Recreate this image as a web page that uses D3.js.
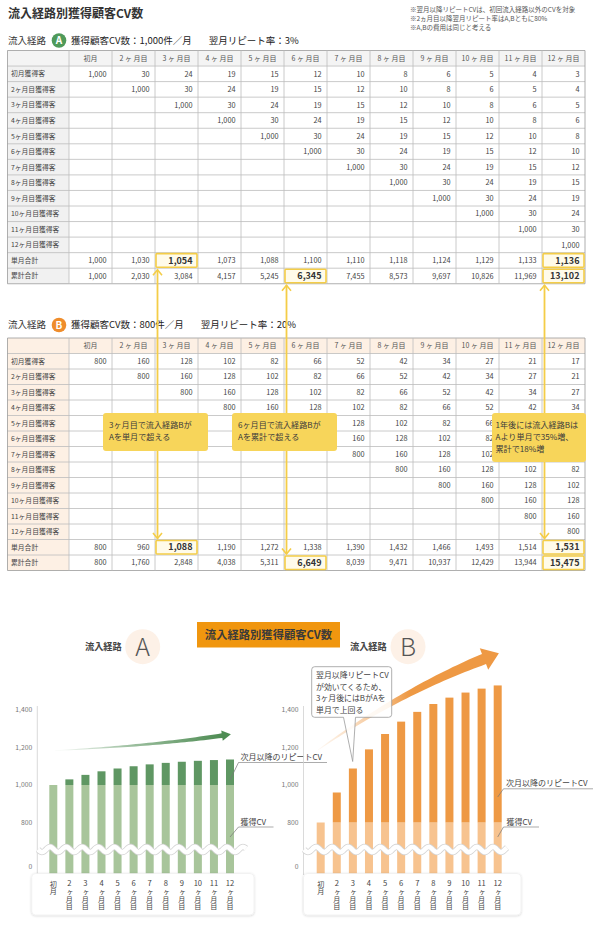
<!DOCTYPE html>
<html lang="ja"><head><meta charset="utf-8">
<script src="https://cdn.jsdelivr.net/npm/d3@7/dist/d3.min.js"></script>
<style>
html,body{margin:0;padding:0;background:#fff;}
svg{display:block;}
text{font-family:"Noto Sans CJK JP","Noto Sans CJK SC",sans-serif;}
.vt{writing-mode:vertical-rl;}
</style></head><body>
<svg id="chart" width="600" height="925" viewBox="0 0 600 925"></svg>
<script>
// ---------------- DATA ----------------
const mainTitle = "流入経路別獲得顧客CV数";
const notes = ["※翌月以降リピートCVは、初回流入経路以外のCVを対象","※2ヵ月目以降翌月リピート率はA,Bともに80%","※A,Bの費用は同じと考える"];
const months = ["初月","2ヶ月目","3ヶ月目","4ヶ月目","5ヶ月目","6ヶ月目","7ヶ月目","8ヶ月目","9ヶ月目","10ヶ月目","11ヶ月目","12ヶ月目"];
const rowLabels = ["初月獲得客","2ヶ月目獲得客","3ヶ月目獲得客","4ヶ月目獲得客","5ヶ月目獲得客","6ヶ月目獲得客","7ヶ月目獲得客","8ヶ月目獲得客","9ヶ月目獲得客","10ヶ月目獲得客","11ヶ月目獲得客","12ヶ月目獲得客","単月合計","累計合計"];
const _ = null;
const cohortA = [
 [1000,30,24,19,15,12,10,8,6,5,4,3],
 [_,1000,30,24,19,15,12,10,8,6,5,4],
 [_,_,1000,30,24,19,15,12,10,8,6,5],
 [_,_,_,1000,30,24,19,15,12,10,8,6],
 [_,_,_,_,1000,30,24,19,15,12,10,8],
 [_,_,_,_,_,1000,30,24,19,15,12,10],
 [_,_,_,_,_,_,1000,30,24,19,15,12],
 [_,_,_,_,_,_,_,1000,30,24,19,15],
 [_,_,_,_,_,_,_,_,1000,30,24,19],
 [_,_,_,_,_,_,_,_,_,1000,30,24],
 [_,_,_,_,_,_,_,_,_,_,1000,30],
 [_,_,_,_,_,_,_,_,_,_,_,1000]
];
const monthlyA = [1000,1030,1054,1073,1088,1100,1110,1118,1124,1129,1133,1136];
const cumulativeA = [1000,2030,3084,4157,5245,6345,7455,8573,9697,10826,11969,13102];
const cohortB = [
 [800,160,128,102,82,66,52,42,34,27,21,17],
 [_,800,160,128,102,82,66,52,42,34,27,21],
 [_,_,800,160,128,102,82,66,52,42,34,27],
 [_,_,_,800,160,128,102,82,66,52,42,34],
 [_,_,_,_,800,160,128,102,82,66,52,42],
 [_,_,_,_,_,800,160,128,102,82,66,52],
 [_,_,_,_,_,_,800,160,128,102,82,66],
 [_,_,_,_,_,_,_,800,160,128,102,82],
 [_,_,_,_,_,_,_,_,800,160,128,102],
 [_,_,_,_,_,_,_,_,_,800,160,128],
 [_,_,_,_,_,_,_,_,_,_,800,160],
 [_,_,_,_,_,_,_,_,_,_,_,800]
];
const monthlyB = [800,960,1088,1190,1272,1338,1390,1432,1466,1493,1514,1531];
const cumulativeB = [800,1760,2848,4038,5311,6649,8039,9471,10937,12429,13944,15475];
const acquiredA = [1000,1000,1000,1000,1000,1000,1000,1000,1000,1000,1000,1000];
const acquiredB = [800,800,800,800,800,800,800,800,800,800,800,800];
const yTicks = [0,800,1000,1200,1400];
const highlightCells = [[12,2],[13,5],[12,11],[13,11]];
const callouts = [
  {lines:["3ヶ月目で流入経路Bが","Aを単月で超える"]},
  {lines:["6ヶ月目で流入経路Bが","Aを累計で超える"]},
  {lines:["1年後には流入経路Bは","Aより単月で35%増、","累計で18%増"]}
];
const bubbleLines = ["翌月以降リピートCV","が効いてくるため、","3ヶ月後にはBがAを","単月で上回る"];

// ---------------- DRAW ----------------
const svg = d3.select("#chart");
const defs = svg.append("defs");
const fmt = d3.format(",");
const YEL = "#f4cd48";
const cbox = [{x:103,y:413,w:105,h:38},{x:232,y:413,w:105,h:38},{x:492,y:413,w:94,h:49}];

svg.append("text").attr("x",8).attr("y",18).attr("font-size",12).attr("font-weight","bold").attr("fill","#333").text(mainTitle);
svg.selectAll(".note").data(notes).join("text").attr("x",410).attr("y",(d,i)=>11.5+i*9.3)
  .attr("font-size",6.5).attr("fill","#555").text(d=>d);

const colX = d3.scaleBand().domain(months).range([69,585]);
const tLeft = 7.5, tRight = 585, labelRight = 69;

function headerLine(y, letter, color, t1, t2){
  const g = svg.append("g");
  g.append("text").attr("x",8).attr("y",y+3.3).attr("font-size",9.5).attr("fill","#333").text("流入経路");
  g.append("circle").attr("cx",59).attr("cy",y).attr("r",7.3).attr("fill",color);
  g.append("text").attr("x",59).attr("y",y+3.6).attr("text-anchor","middle").attr("font-size",10).attr("font-weight","bold").attr("fill","#fff").attr("font-family","Roboto, sans-serif").text(letter);
  const a = g.append("text").attr("x",71).attr("y",y+3.3).attr("font-size",9.5).attr("fill","#222").text(t1);
  const w = a.node().getComputedTextLength();
  g.append("text").attr("x",71+w+17).attr("y",y+3.3).attr("font-size",9.5).attr("fill","#222").text(t2);
}

function drawTable(top, rowH, cohort, monthly, cumul, headBg, labelBg, hidden){
  const g = svg.append("g");
  const rows = [...cohort, monthly, cumul];
  const rowY = d3.scaleBand().domain(d3.range(15)).range([top, top+15*rowH]);
  g.append("rect").attr("x",tLeft).attr("y",top).attr("width",tRight-tLeft).attr("height",rowH).attr("fill",headBg);
  g.append("rect").attr("x",tLeft).attr("y",top+rowH).attr("width",labelRight-tLeft).attr("height",14*rowH).attr("fill",labelBg);
  d3.range(16).forEach(i=>{
    g.append("line").attr("x1",tLeft).attr("x2",tRight).attr("y1",top+i*rowH).attr("y2",top+i*rowH)
      .attr("stroke",(i===0||i===15)?"#9a9a9a":"#bdbdbd").attr("stroke-width",0.8);
  });
  [tLeft, labelRight, ...months.map(m=>colX(m)+colX.bandwidth())].forEach((x,i,arr)=>{
    g.append("line").attr("x1",x).attr("x2",x).attr("y1",top).attr("y2",top+15*rowH)
      .attr("stroke",(i===0||i===arr.length-1)?"#9a9a9a":"#bdbdbd").attr("stroke-width",0.8);
  });
  g.selectAll(".h").data(months).join("text").attr("x",d=>colX(d)+colX.bandwidth()/2).attr("y",top+rowH/2+2.6)
    .attr("text-anchor","middle").attr("font-size",7).attr("fill","#555").text(d=>d.replace("ヶ"," ヶ "));
  g.selectAll(".l").data(rowLabels).join("text").attr("x",tLeft+3.5).attr("y",(d,i)=>rowY(i+1)+rowH/2+2.5)
    .attr("font-size",6.8).attr("fill","#444").text(d=>d);
  highlightCells.forEach(([r,c])=>{
    g.append("rect").attr("x",colX(months[c])+1).attr("y",rowY(r+1)+1).attr("width",colX.bandwidth()-2).attr("height",rowH-2)
      .attr("fill","#fffbea").attr("stroke",YEL).attr("stroke-width",1.6).attr("rx",1);
  });
  rows.forEach((row,r)=>{
    row.forEach((v,c)=>{
      if(v===null) return;
      if(hidden){
        const cx = colX(months[c])+colX.bandwidth()/2, cy = rowY(r+1)+rowH/2;
        if(cbox.some(b=>cx>b.x&&cx<b.x+b.w&&cy>b.y&&cy<b.y+b.h)) return;
      }
      const hl = highlightCells.some(h=>h[0]===r&&h[1]===c);
      g.append("text").attr("x",colX(months[c])+colX.bandwidth()-5.5).attr("y",rowY(r+1)+rowH/2+(hl?3.2:2.7))
        .attr("text-anchor","end").attr("font-size",hl?9:7.3).attr("font-weight",hl?"bold":"normal")
        .attr("fill",hl?"#333":"#444").text(fmt(v));
    });
  });
  return rowY;
}

headerLine(40.5, "A", "#4f9a5a", "獲得顧客CV数：1,000件／月", "翌月リピート率：3%");
const rowYA = drawTable(50.5, 15.55, cohortA, monthlyA, cumulativeA, "#f4f4f4", "#f1f1f1", false);
headerLine(325, "B", "#ef8d2c", "獲得顧客CV数：800件／月", "翌月リピート率：20%");
const rowYB = drawTable(338, 15.5, cohortB, monthlyB, cumulativeB, "#fdf0e4", "#fdf0e4", true);

const conn = [
  {c:2, y1: rowYA(13)+rowYA.bandwidth()+1.5, y2: rowYB(13)-1},
  {c:5, y1: rowYA(14)+rowYA.bandwidth()+1.5, y2: rowYB(14)-1},
  {c:11, y1: rowYA(14)+rowYA.bandwidth()+1.5, y2: rowYB(13)-1}
];
conn.forEach(k=>{
  const x = colX(months[k.c])+2.5;
  svg.append("line").attr("x1",x).attr("x2",x).attr("y1",k.y1).attr("y2",k.y2).attr("stroke",YEL).attr("stroke-width",1.8);
  svg.append("path").attr("d",`M${x-4.5},${k.y1+5.5}L${x},${k.y1}L${x+4.5},${k.y1+5.5}`).attr("fill","none").attr("stroke",YEL).attr("stroke-width",1.6);
  svg.append("path").attr("d",`M${x-4.5},${k.y2-5.5}L${x},${k.y2}L${x+4.5},${k.y2-5.5}`).attr("fill","none").attr("stroke",YEL).attr("stroke-width",1.6);
});
callouts.forEach((c,i)=>{
  const b = cbox[i];
  svg.append("rect").attr("x",b.x).attr("y",b.y).attr("width",b.w).attr("height",b.h).attr("rx",3).attr("fill","#f7d55a");
  c.lines.forEach((t,j)=>{
    svg.append("text").attr("x",b.x+(i===2?3.5:6)).attr("y",b.y+14.5+j*12).attr("font-size",8.1).attr("fill","#3a3a3a").text(t);
  });
});

// ---------------- CHARTS ----------------
svg.append("rect").attr("x",197).attr("y",622).attr("width",143).attr("height",25.5).attr("fill","#f0960f");
svg.append("text").attr("x",268.5).attr("y",639.3).attr("text-anchor","middle").attr("font-size",11.3).attr("font-weight","bold").attr("fill","#3a3a3a").text(mainTitle);

function routeLabel(tx, cx, letter){
  svg.append("text").attr("x",tx).attr("y",650).attr("font-size",9.2).attr("font-weight","bold").attr("fill","#444").text("流入経路");
  svg.append("circle").attr("cx",cx).attr("cy",646.7).attr("r",17.5).attr("fill","#fdf1e7");
  svg.append("text").attr("x",cx).attr("y",655.5).attr("text-anchor","middle").attr("font-size",25).attr("font-weight",200)
    .attr("font-family","Lato, 'Open Sans', sans-serif").attr("fill","#555").text(letter);
}
routeLabel(85, 142.7, "A");
routeLabel(350, 408, "B");

const shadow = defs.append("filter").attr("id","sh").attr("x","-10%").attr("y","-20%").attr("width","120%").attr("height","150%");
shadow.append("feDropShadow").attr("dx",0).attr("dy",0.6).attr("stdDeviation",1.2).attr("flood-color","#000").attr("flood-opacity",0.18);

function taperedArrow(p0, c, p1, w0, w1, headW, headL){
  const N=40, L=[], R=[]; let tx=1, ty=0;
  for(let i=0;i<=N;i++){
    const t=i/N, mt=1-t;
    const x=mt*mt*p0[0]+2*mt*t*c[0]+t*t*p1[0];
    const y=mt*mt*p0[1]+2*mt*t*c[1]+t*t*p1[1];
    const dx=2*mt*(c[0]-p0[0])+2*t*(p1[0]-c[0]);
    const dy=2*mt*(c[1]-p0[1])+2*t*(p1[1]-c[1]);
    const len=Math.hypot(dx,dy), nx=-dy/len, ny=dx/len, w=(w0+(w1-w0)*t)/2;
    L.push([x+nx*w,y+ny*w]); R.push([x-nx*w,y-ny*w]);
    if(i===N){tx=dx/len;ty=dy/len;}
  }
  const nx=-ty, ny=tx;
  const hl=[p1[0]+nx*headW/2,p1[1]+ny*headW/2], hr=[p1[0]-nx*headW/2,p1[1]-ny*headW/2];
  const tip=[p1[0]+tx*headL,p1[1]+ty*headL];
  const pts=[...L,hl,tip,hr,...R.reverse()];
  return "M"+pts.map(p=>p[0].toFixed(2)+","+p[1].toFixed(2)).join("L")+"Z";
}
function gradient(id, x1, x2, color, stops){
  const lg = defs.append("linearGradient").attr("id",id).attr("gradientUnits","userSpaceOnUse")
    .attr("x1",x1).attr("x2",x2).attr("y1",0).attr("y2",0);
  stops.forEach(s=>lg.append("stop").attr("offset",s[0]).attr("stop-color",color).attr("stop-opacity",s[1]));
}
function wave(x0,x1,y,amp,period){
  const pts=d3.range(x0,x1+0.5,1).map(x=>[x, y+amp*Math.sin((x-x0)/period*2*Math.PI)]);
  return d3.line()(pts);
}

const yScale = d3.scaleLinear().domain([0,800,1400]).range([867,822.5,710]);

function drawChart(cfg){
  const g = svg.append("g");
  const x = d3.scalePoint().domain(months).range(cfg.xr);
  const data = months.map((m,i)=>({m, acquired:cfg.acq[i], repeat:cfg.total[i]-cfg.acq[i]}));
  const series = d3.stack().keys(["acquired","repeat"])(data);
  g.append("line").attr("x1",cfg.axisX).attr("x2",cfg.axisX).attr("y1",706).attr("y2",875).attr("stroke","#d0d0d0").attr("stroke-width",0.8);
  g.selectAll(".tk").data(yTicks).join("text").attr("x",cfg.axisX-5).attr("y",d=>yScale(d)+2.4)
    .attr("text-anchor","end").attr("font-size",6.8).attr("fill","#777").text(d=>fmt(d));
  gradient(cfg.id+"g", cfg.arrow.p0[0], cfg.arrow.p1[0], cfg.arrowColor, cfg.arrow.stops);
  g.append("path").attr("d",taperedArrow(cfg.arrow.p0,cfg.arrow.c,cfg.arrow.p1,cfg.arrow.w0,cfg.arrow.w1,cfg.arrow.hw,cfg.arrow.hl))
    .attr("fill",`url(#${cfg.id}g)`);
  const bw = 8;
  series.forEach((s,si)=>{
    g.selectAll(".b"+si).data(s).join("rect")
      .attr("x",d=>x(d.data.m)-bw/2).attr("width",bw)
      .attr("y",d=>yScale(d[1]))
      .attr("height",d=>(d[0]===0?yScale(0)+8:yScale(d[0]))-yScale(d[1]))
      .attr("fill",cfg.colors[si]);
  });
  const wp = wave(cfg.breakX[0],cfg.breakX[1],849.5,2.6,16.08);
  g.append("path").attr("d",wp).attr("fill","none").attr("stroke","#d4d4d4").attr("stroke-width",6.2);
  g.append("path").attr("d",wp).attr("fill","none").attr("stroke","#fff").attr("stroke-width",4.6);
  g.append("rect").attr("x",cfg.box[0]).attr("y",873.5).attr("width",cfg.box[1]-cfg.box[0]).attr("height",41.5).attr("rx",4)
    .attr("fill","#fff").attr("stroke","#ececec").attr("stroke-width",0.6).attr("filter","url(#sh)");
  months.forEach(m=>{
    const dm = m.match(/^\d+/);
    const rest = dm ? m.slice(dm[0].length) : m;
    if(dm){
      g.append("text").attr("x",x(m)).attr("y",886.4).attr("text-anchor","middle")
        .attr("font-family","'Liberation Sans', Arial, sans-serif").attr("font-size",7.6).attr("fill","#444").text(dm[0]);
    }
    g.append("text").attr("class","vt").attr("x",x(m)).attr("y",dm?888.6:880.4)
      .attr("font-size",7.1).attr("fill","#444").text(rest);
  });
  cfg.leaders.forEach(l=>{
    g.append("text").attr("x",l.tx).attr("y",l.ty).attr("font-size",8).attr("fill","#444").text(l.text);
    g.append("line").attr("x1",l.lx).attr("x2",l.ux).attr("y1",l.ly).attr("y2",l.ly).attr("stroke","#888").attr("stroke-width",0.7);
    g.append("line").attr("x1",l.lx).attr("x2",x(months[11])).attr("y1",l.ly).attr("y2",l.py).attr("stroke","#777").attr("stroke-width",0.7);
  });
  return x;
}

drawChart({
  id:"A", xr:[53.3,230], axisX:37.3, acq:acquiredA, total:monthlyA, colors:["#a8c59b","#5f9763"],
  breakX:[38,246], box:[31.7,254], arrowColor:"#4e8c53",
  arrow:{p0:[55,750.5], c:[150,746], p1:[222,735.6], w0:0.4, w1:4.6, hw:10.5, hl:9, stops:[[0,0.03],[0.45,0.55],[1,1]]},
  leaders:[
    {text:"次月以降のリピートCV", tx:240.5, ty:759.5, lx:238.5, ux:327, ly:762.5, py:780},
    {text:"獲得CV", tx:240.5, ty:824.5, lx:238.5, ux:273.5, ly:827, py:837}
  ]
});
drawChart({
  id:"B", xr:[320.7,497.7], axisX:303.5, acq:acquiredB, total:monthlyB, colors:["#f7c38f","#ee9944"],
  breakX:[304,507], box:[303.5,521], arrowColor:"#ee9944",
  arrow:{p0:[318,750], c:[400,692], p1:[484,659], w0:0.6, w1:11, hw:23, hl:16, stops:[[0,0.05],[0.35,0.55],[0.55,1],[1,1]]},
  leaders:[
    {text:"次月以降のリピートCV", tx:506, ty:786, lx:503.5, ux:593, ly:788.8, py:797},
    {text:"獲得CV", tx:506.5, ty:824.5, lx:503.5, ux:539, ly:827, py:837}
  ]
});

const bx0=311.7, bx1=391.7, by0=666.7, by1=717.3, r=3;
const bubblePath = `M${bx0+r},${by0}H${bx1-r}Q${bx1},${by0} ${bx1},${by0+r}V${by1-r}Q${bx1},${by1} ${bx1-r},${by1}H355.5L352.7,761.5L343.5,${by1}H${bx0+r}Q${bx0},${by1} ${bx0},${by1-r}V${by0+r}Q${bx0},${by0} ${bx0+r},${by0}Z`;
svg.append("path").attr("d",bubblePath).attr("fill","#fff").attr("fill-opacity",0.88).attr("stroke","#9a9a9a").attr("stroke-width",0.8);
bubbleLines.forEach((t,i)=>{
  svg.append("text").attr("x",316).attr("y",678.3+i*11.4).attr("font-size",7.9).attr("fill","#444").text(t);
});
</script>
</body></html>
